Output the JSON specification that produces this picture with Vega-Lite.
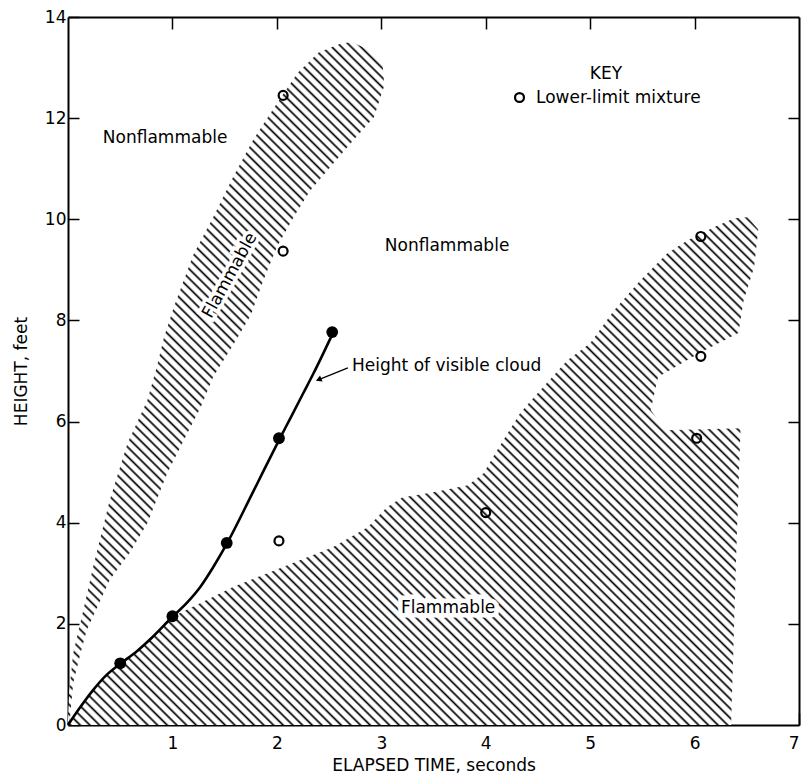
{
"$schema": "https://vega.github.io/schema/vega-lite/v6.json",
"width": 731,
"height": 708,
"autosize": {"type": "none"},
"padding": {"left": 68, "top": 17, "right": 3, "bottom": 57},
"background": "white",
"config": {
 "view": {"stroke": null},
 "font": "DejaVu Sans",
 "axis": {"grid": false, "domainColor": "black", "domainWidth": 2, "tickColor": "black", "tickWidth": 1.5, "labelFont": "DejaVu Sans", "labelFontSize": 17, "labelColor": "black", "titleFont": "DejaVu Sans", "titleFontSize": 17, "titleFontWeight": "normal", "titleColor": "black", "labelFlush": false},
 "text": {"font": "DejaVu Sans", "fontSize": 17, "color": "black"}
},
"datasets": {
 "hatch": [
  {"i":0,"x":0,"y":0},{"i":1,"x":0,"y":0.1},{"i":2,"x":0.01,"y":0.63},{"i":3,"x":0.05,"y":1.42},{"i":4,"x":0.14,"y":2.21},{"i":5,"x":0.24,"y":3.12},{"i":6,"x":0.4,"y":4.45},{"i":7,"x":0.57,"y":5.57},{"i":8,"x":0.76,"y":6.42},{"i":9,"x":0.85,"y":7.08},{"i":10,"x":0.92,"y":7.67},{"i":11,"x":1.02,"y":8.3},{"i":12,"x":1.2,"y":9.3},{"i":13,"x":1.39,"y":10.04},{"i":14,"x":1.58,"y":10.83},{"i":15,"x":1.77,"y":11.56},{"i":16,"x":2.0,"y":12.29},{"i":17,"x":2.2,"y":12.9},{"i":18,"x":2.4,"y":13.3},{"i":19,"x":2.62,"y":13.48},{"i":20,"x":2.72,"y":13.5},{"i":21,"x":2.88,"y":13.35},{"i":22,"x":3.01,"y":13.1},{"i":23,"x":3.03,"y":12.65},{"i":24,"x":2.93,"y":12.02},{"i":25,"x":2.73,"y":11.56},{"i":26,"x":2.51,"y":11.03},{"i":27,"x":2.32,"y":10.57},{"i":28,"x":2.16,"y":10.04},{"i":29,"x":2.0,"y":9.45},{"i":30,"x":1.87,"y":8.79},{"i":31,"x":1.75,"y":8.1},{"i":32,"x":1.65,"y":7.75},{"i":33,"x":1.55,"y":7.41},{"i":34,"x":1.39,"y":6.88},{"i":35,"x":1.27,"y":6.28},{"i":36,"x":1.15,"y":5.8},{"i":37,"x":0.95,"y":4.98},{"i":38,"x":0.76,"y":3.99},{"i":39,"x":0.59,"y":3.4},{"i":40,"x":0.4,"y":2.87},{"i":41,"x":0.28,"y":2.33},{"i":42,"x":0.18,"y":1.88},{"i":43,"x":0.12,"y":1.42},{"i":44,"x":0.05,"y":0.83},{"i":45,"x":0.02,"y":0.16},{"i":46,"x":0,"y":0},
  {"i":47,"x":0.12,"y":0.36},{"i":48,"x":0.24,"y":0.69},{"i":49,"x":0.37,"y":0.99},{"i":50,"x":0.5,"y":1.21},{"i":51,"x":0.66,"y":1.45},{"i":52,"x":0.81,"y":1.72},{"i":53,"x":1.0,"y":2.14},{"i":54,"x":1.27,"y":2.41},{"i":55,"x":1.58,"y":2.73},{"i":56,"x":1.91,"y":3.0},{"i":57,"x":2.22,"y":3.26},{"i":58,"x":2.54,"y":3.52},{"i":59,"x":2.87,"y":3.91},{"i":60,"x":3.05,"y":4.3},{"i":61,"x":3.2,"y":4.5},{"i":62,"x":3.5,"y":4.6},{"i":63,"x":3.83,"y":4.74},{"i":64,"x":3.98,"y":4.98},{"i":65,"x":4.07,"y":5.3},{"i":66,"x":4.21,"y":5.77},{"i":67,"x":4.33,"y":6.17},{"i":68,"x":4.45,"y":6.45},{"i":69,"x":4.78,"y":7.21},{"i":70,"x":5.0,"y":7.55},{"i":71,"x":5.23,"y":8.2},{"i":72,"x":5.48,"y":8.79},{"i":73,"x":5.74,"y":9.33},{"i":74,"x":5.93,"y":9.58},{"i":75,"x":6.18,"y":9.84},{"i":76,"x":6.38,"y":10.02},{"i":77,"x":6.51,"y":10.04},{"i":78,"x":6.61,"y":9.8},{"i":79,"x":6.57,"y":9.05},{"i":80,"x":6.47,"y":8.4},{"i":81,"x":6.42,"y":7.75},{"i":82,"x":6.06,"y":7.37},{"i":83,"x":5.65,"y":6.88},{"i":84,"x":5.58,"y":6.23},{"i":85,"x":5.72,"y":5.83},{"i":86,"x":6.44,"y":5.87},{"i":87,"x":6.4,"y":3.46},{"i":88,"x":6.35,"y":0},{"i":89,"x":0,"y":0}
 ],
 "curve": [
  {"x":0,"y":0},{"x":0.12,"y":0.36},{"x":0.24,"y":0.69},{"x":0.37,"y":0.99},{"x":0.5,"y":1.21},{"x":0.66,"y":1.46},{"x":0.81,"y":1.74},{"x":1.0,"y":2.14},{"x":1.14,"y":2.42},{"x":1.27,"y":2.74},{"x":1.39,"y":3.12},{"x":1.52,"y":3.58},{"x":1.77,"y":4.6},{"x":2.0,"y":5.55},{"x":2.13,"y":6.07},{"x":2.25,"y":6.55},{"x":2.35,"y":6.95},{"x":2.44,"y":7.33},{"x":2.53,"y":7.72}
 ],
 "cloud": [
  {"x":0.5,"y":1.22},{"x":1.0,"y":2.15},{"x":1.52,"y":3.6},{"x":2.02,"y":5.67},{"x":2.53,"y":7.77}
 ],
 "lower": [
  {"x":2.06,"y":12.45,"key":"Lower-limit mixture"},{"x":2.06,"y":9.37,"key":"Lower-limit mixture"},{"x":2.02,"y":3.64,"key":"Lower-limit mixture"},{"x":4.0,"y":4.2,"key":"Lower-limit mixture"},{"x":6.06,"y":9.66,"key":"Lower-limit mixture"},{"x":6.06,"y":7.29,"key":"Lower-limit mixture"},{"x":6.02,"y":5.67,"key":"Lower-limit mixture"}
 ],
 "one": [{"x":0,"y":0}]
},
"encoding": {
 "x": {"field": "x", "type": "quantitative", "scale": {"domain": [0, 7], "nice": false, "zero": false}, "axis": null},
 "y": {"field": "y", "type": "quantitative", "scale": {"domain": [0, 14], "nice": false, "zero": false}, "axis": null}
},
"layer": [
 {
  "data": {"name": "hatch"},
  "mark": {"type": "line", "interpolate": "linear", "strokeWidth": 0, "strokeOpacity": 0,
   "fill": {"gradient": "linear", "x1": 0, "y1": 1, "x2": 0.875, "y2": 0.125, "stops": [
{"offset":0,"color":"#fff"},{"offset":0.002,"color":"#000"},{"offset":0.004,"color":"#fff"},
{"offset":0.008,"color":"#fff"},{"offset":0.01,"color":"#000"},{"offset":0.012,"color":"#fff"},
{"offset":0.016,"color":"#fff"},{"offset":0.018,"color":"#000"},{"offset":0.02,"color":"#fff"},
{"offset":0.024,"color":"#fff"},{"offset":0.026,"color":"#000"},{"offset":0.028,"color":"#fff"},
{"offset":0.032,"color":"#fff"},{"offset":0.034,"color":"#000"},{"offset":0.036,"color":"#fff"},
{"offset":0.04,"color":"#fff"},{"offset":0.042,"color":"#000"},{"offset":0.044,"color":"#fff"},
{"offset":0.048,"color":"#fff"},{"offset":0.05,"color":"#000"},{"offset":0.052,"color":"#fff"},
{"offset":0.056,"color":"#fff"},{"offset":0.058,"color":"#000"},{"offset":0.06,"color":"#fff"},
{"offset":0.064,"color":"#fff"},{"offset":0.066,"color":"#000"},{"offset":0.068,"color":"#fff"},
{"offset":0.072,"color":"#fff"},{"offset":0.074,"color":"#000"},{"offset":0.076,"color":"#fff"},
{"offset":0.08,"color":"#fff"},{"offset":0.082,"color":"#000"},{"offset":0.084,"color":"#fff"},
{"offset":0.088,"color":"#fff"},{"offset":0.09,"color":"#000"},{"offset":0.092,"color":"#fff"},
{"offset":0.096,"color":"#fff"},{"offset":0.098,"color":"#000"},{"offset":0.1,"color":"#fff"},
{"offset":0.104,"color":"#fff"},{"offset":0.106,"color":"#000"},{"offset":0.108,"color":"#fff"},
{"offset":0.112,"color":"#fff"},{"offset":0.114,"color":"#000"},{"offset":0.116,"color":"#fff"},
{"offset":0.12,"color":"#fff"},{"offset":0.122,"color":"#000"},{"offset":0.124,"color":"#fff"},
{"offset":0.128,"color":"#fff"},{"offset":0.13,"color":"#000"},{"offset":0.132,"color":"#fff"},
{"offset":0.136,"color":"#fff"},{"offset":0.138,"color":"#000"},{"offset":0.14,"color":"#fff"},
{"offset":0.144,"color":"#fff"},{"offset":0.146,"color":"#000"},{"offset":0.148,"color":"#fff"},
{"offset":0.152,"color":"#fff"},{"offset":0.154,"color":"#000"},{"offset":0.156,"color":"#fff"},
{"offset":0.16,"color":"#fff"},{"offset":0.162,"color":"#000"},{"offset":0.164,"color":"#fff"},
{"offset":0.168,"color":"#fff"},{"offset":0.17,"color":"#000"},{"offset":0.172,"color":"#fff"},
{"offset":0.176,"color":"#fff"},{"offset":0.178,"color":"#000"},{"offset":0.18,"color":"#fff"},
{"offset":0.184,"color":"#fff"},{"offset":0.186,"color":"#000"},{"offset":0.188,"color":"#fff"},
{"offset":0.192,"color":"#fff"},{"offset":0.194,"color":"#000"},{"offset":0.196,"color":"#fff"},
{"offset":0.2,"color":"#fff"},{"offset":0.202,"color":"#000"},{"offset":0.204,"color":"#fff"},
{"offset":0.208,"color":"#fff"},{"offset":0.21,"color":"#000"},{"offset":0.212,"color":"#fff"},
{"offset":0.216,"color":"#fff"},{"offset":0.218,"color":"#000"},{"offset":0.22,"color":"#fff"},
{"offset":0.224,"color":"#fff"},{"offset":0.226,"color":"#000"},{"offset":0.228,"color":"#fff"},
{"offset":0.232,"color":"#fff"},{"offset":0.234,"color":"#000"},{"offset":0.236,"color":"#fff"},
{"offset":0.24,"color":"#fff"},{"offset":0.242,"color":"#000"},{"offset":0.244,"color":"#fff"},
{"offset":0.248,"color":"#fff"},{"offset":0.25,"color":"#000"},{"offset":0.252,"color":"#fff"},
{"offset":0.256,"color":"#fff"},{"offset":0.258,"color":"#000"},{"offset":0.26,"color":"#fff"},
{"offset":0.264,"color":"#fff"},{"offset":0.266,"color":"#000"},{"offset":0.268,"color":"#fff"},
{"offset":0.272,"color":"#fff"},{"offset":0.274,"color":"#000"},{"offset":0.276,"color":"#fff"},
{"offset":0.28,"color":"#fff"},{"offset":0.282,"color":"#000"},{"offset":0.284,"color":"#fff"},
{"offset":0.288,"color":"#fff"},{"offset":0.29,"color":"#000"},{"offset":0.292,"color":"#fff"},
{"offset":0.296,"color":"#fff"},{"offset":0.298,"color":"#000"},{"offset":0.3,"color":"#fff"},
{"offset":0.304,"color":"#fff"},{"offset":0.306,"color":"#000"},{"offset":0.308,"color":"#fff"},
{"offset":0.312,"color":"#fff"},{"offset":0.314,"color":"#000"},{"offset":0.316,"color":"#fff"},
{"offset":0.32,"color":"#fff"},{"offset":0.322,"color":"#000"},{"offset":0.324,"color":"#fff"},
{"offset":0.328,"color":"#fff"},{"offset":0.33,"color":"#000"},{"offset":0.332,"color":"#fff"},
{"offset":0.336,"color":"#fff"},{"offset":0.338,"color":"#000"},{"offset":0.34,"color":"#fff"},
{"offset":0.344,"color":"#fff"},{"offset":0.346,"color":"#000"},{"offset":0.348,"color":"#fff"},
{"offset":0.352,"color":"#fff"},{"offset":0.354,"color":"#000"},{"offset":0.356,"color":"#fff"},
{"offset":0.36,"color":"#fff"},{"offset":0.362,"color":"#000"},{"offset":0.364,"color":"#fff"},
{"offset":0.368,"color":"#fff"},{"offset":0.37,"color":"#000"},{"offset":0.372,"color":"#fff"},
{"offset":0.376,"color":"#fff"},{"offset":0.378,"color":"#000"},{"offset":0.38,"color":"#fff"},
{"offset":0.384,"color":"#fff"},{"offset":0.386,"color":"#000"},{"offset":0.388,"color":"#fff"},
{"offset":0.392,"color":"#fff"},{"offset":0.394,"color":"#000"},{"offset":0.396,"color":"#fff"},
{"offset":0.4,"color":"#fff"},{"offset":0.402,"color":"#000"},{"offset":0.404,"color":"#fff"},
{"offset":0.408,"color":"#fff"},{"offset":0.41,"color":"#000"},{"offset":0.412,"color":"#fff"},
{"offset":0.416,"color":"#fff"},{"offset":0.418,"color":"#000"},{"offset":0.42,"color":"#fff"},
{"offset":0.424,"color":"#fff"},{"offset":0.426,"color":"#000"},{"offset":0.428,"color":"#fff"},
{"offset":0.432,"color":"#fff"},{"offset":0.434,"color":"#000"},{"offset":0.436,"color":"#fff"},
{"offset":0.44,"color":"#fff"},{"offset":0.442,"color":"#000"},{"offset":0.444,"color":"#fff"},
{"offset":0.448,"color":"#fff"},{"offset":0.45,"color":"#000"},{"offset":0.452,"color":"#fff"},
{"offset":0.456,"color":"#fff"},{"offset":0.458,"color":"#000"},{"offset":0.46,"color":"#fff"},
{"offset":0.464,"color":"#fff"},{"offset":0.466,"color":"#000"},{"offset":0.468,"color":"#fff"},
{"offset":0.472,"color":"#fff"},{"offset":0.474,"color":"#000"},{"offset":0.476,"color":"#fff"},
{"offset":0.48,"color":"#fff"},{"offset":0.482,"color":"#000"},{"offset":0.484,"color":"#fff"},
{"offset":0.488,"color":"#fff"},{"offset":0.49,"color":"#000"},{"offset":0.492,"color":"#fff"},
{"offset":0.496,"color":"#fff"},{"offset":0.498,"color":"#000"},{"offset":0.5,"color":"#fff"},
{"offset":0.504,"color":"#fff"},{"offset":0.506,"color":"#000"},{"offset":0.508,"color":"#fff"},
{"offset":0.512,"color":"#fff"},{"offset":0.514,"color":"#000"},{"offset":0.516,"color":"#fff"},
{"offset":0.52,"color":"#fff"},{"offset":0.522,"color":"#000"},{"offset":0.524,"color":"#fff"},
{"offset":0.528,"color":"#fff"},{"offset":0.53,"color":"#000"},{"offset":0.532,"color":"#fff"},
{"offset":0.536,"color":"#fff"},{"offset":0.538,"color":"#000"},{"offset":0.54,"color":"#fff"},
{"offset":0.544,"color":"#fff"},{"offset":0.546,"color":"#000"},{"offset":0.548,"color":"#fff"},
{"offset":0.552,"color":"#fff"},{"offset":0.554,"color":"#000"},{"offset":0.556,"color":"#fff"},
{"offset":0.56,"color":"#fff"},{"offset":0.562,"color":"#000"},{"offset":0.564,"color":"#fff"},
{"offset":0.568,"color":"#fff"},{"offset":0.57,"color":"#000"},{"offset":0.572,"color":"#fff"},
{"offset":0.576,"color":"#fff"},{"offset":0.578,"color":"#000"},{"offset":0.58,"color":"#fff"},
{"offset":0.584,"color":"#fff"},{"offset":0.586,"color":"#000"},{"offset":0.588,"color":"#fff"},
{"offset":0.592,"color":"#fff"},{"offset":0.594,"color":"#000"},{"offset":0.596,"color":"#fff"},
{"offset":0.6,"color":"#fff"},{"offset":0.602,"color":"#000"},{"offset":0.604,"color":"#fff"},
{"offset":0.608,"color":"#fff"},{"offset":0.61,"color":"#000"},{"offset":0.612,"color":"#fff"},
{"offset":0.616,"color":"#fff"},{"offset":0.618,"color":"#000"},{"offset":0.62,"color":"#fff"},
{"offset":0.624,"color":"#fff"},{"offset":0.626,"color":"#000"},{"offset":0.628,"color":"#fff"},
{"offset":0.632,"color":"#fff"},{"offset":0.634,"color":"#000"},{"offset":0.636,"color":"#fff"},
{"offset":0.64,"color":"#fff"},{"offset":0.642,"color":"#000"},{"offset":0.644,"color":"#fff"},
{"offset":0.648,"color":"#fff"},{"offset":0.65,"color":"#000"},{"offset":0.652,"color":"#fff"},
{"offset":0.656,"color":"#fff"},{"offset":0.658,"color":"#000"},{"offset":0.66,"color":"#fff"},
{"offset":0.664,"color":"#fff"},{"offset":0.666,"color":"#000"},{"offset":0.668,"color":"#fff"},
{"offset":0.672,"color":"#fff"},{"offset":0.674,"color":"#000"},{"offset":0.676,"color":"#fff"},
{"offset":0.68,"color":"#fff"},{"offset":0.682,"color":"#000"},{"offset":0.684,"color":"#fff"},
{"offset":0.688,"color":"#fff"},{"offset":0.69,"color":"#000"},{"offset":0.692,"color":"#fff"},
{"offset":0.696,"color":"#fff"},{"offset":0.698,"color":"#000"},{"offset":0.7,"color":"#fff"},
{"offset":0.704,"color":"#fff"},{"offset":0.706,"color":"#000"},{"offset":0.708,"color":"#fff"},
{"offset":0.712,"color":"#fff"},{"offset":0.714,"color":"#000"},{"offset":0.716,"color":"#fff"},
{"offset":0.72,"color":"#fff"},{"offset":0.722,"color":"#000"},{"offset":0.724,"color":"#fff"},
{"offset":0.728,"color":"#fff"},{"offset":0.73,"color":"#000"},{"offset":0.732,"color":"#fff"},
{"offset":0.736,"color":"#fff"},{"offset":0.738,"color":"#000"},{"offset":0.74,"color":"#fff"},
{"offset":0.744,"color":"#fff"},{"offset":0.746,"color":"#000"},{"offset":0.748,"color":"#fff"},
{"offset":0.752,"color":"#fff"},{"offset":0.754,"color":"#000"},{"offset":0.756,"color":"#fff"},
{"offset":0.76,"color":"#fff"},{"offset":0.762,"color":"#000"},{"offset":0.764,"color":"#fff"},
{"offset":0.768,"color":"#fff"},{"offset":0.77,"color":"#000"},{"offset":0.772,"color":"#fff"},
{"offset":0.776,"color":"#fff"},{"offset":0.778,"color":"#000"},{"offset":0.78,"color":"#fff"},
{"offset":0.784,"color":"#fff"},{"offset":0.786,"color":"#000"},{"offset":0.788,"color":"#fff"},
{"offset":0.792,"color":"#fff"},{"offset":0.794,"color":"#000"},{"offset":0.796,"color":"#fff"},
{"offset":0.8,"color":"#fff"},{"offset":0.802,"color":"#000"},{"offset":0.804,"color":"#fff"},
{"offset":0.808,"color":"#fff"},{"offset":0.81,"color":"#000"},{"offset":0.812,"color":"#fff"},
{"offset":0.816,"color":"#fff"},{"offset":0.818,"color":"#000"},{"offset":0.82,"color":"#fff"},
{"offset":0.824,"color":"#fff"},{"offset":0.826,"color":"#000"},{"offset":0.828,"color":"#fff"},
{"offset":0.832,"color":"#fff"},{"offset":0.834,"color":"#000"},{"offset":0.836,"color":"#fff"},
{"offset":0.84,"color":"#fff"},{"offset":0.842,"color":"#000"},{"offset":0.844,"color":"#fff"},
{"offset":0.848,"color":"#fff"},{"offset":0.85,"color":"#000"},{"offset":0.852,"color":"#fff"},
{"offset":0.856,"color":"#fff"},{"offset":0.858,"color":"#000"},{"offset":0.86,"color":"#fff"},
{"offset":0.864,"color":"#fff"},{"offset":0.866,"color":"#000"},{"offset":0.868,"color":"#fff"},
{"offset":0.872,"color":"#fff"},{"offset":0.874,"color":"#000"},{"offset":0.876,"color":"#fff"},
{"offset":0.88,"color":"#fff"},{"offset":0.882,"color":"#000"},{"offset":0.884,"color":"#fff"},
{"offset":0.888,"color":"#fff"},{"offset":0.89,"color":"#000"},{"offset":0.892,"color":"#fff"},
{"offset":0.896,"color":"#fff"},{"offset":0.898,"color":"#000"},{"offset":0.9,"color":"#fff"},
{"offset":0.904,"color":"#fff"},{"offset":0.906,"color":"#000"},{"offset":0.908,"color":"#fff"},
{"offset":0.912,"color":"#fff"},{"offset":0.914,"color":"#000"},{"offset":0.916,"color":"#fff"},
{"offset":0.92,"color":"#fff"},{"offset":0.922,"color":"#000"},{"offset":0.924,"color":"#fff"},
{"offset":0.928,"color":"#fff"},{"offset":0.93,"color":"#000"},{"offset":0.932,"color":"#fff"},
{"offset":0.936,"color":"#fff"},{"offset":0.938,"color":"#000"},{"offset":0.94,"color":"#fff"},
{"offset":0.944,"color":"#fff"},{"offset":0.946,"color":"#000"},{"offset":0.948,"color":"#fff"},
{"offset":0.952,"color":"#fff"},{"offset":0.954,"color":"#000"},{"offset":0.956,"color":"#fff"},
{"offset":0.96,"color":"#fff"},{"offset":0.962,"color":"#000"},{"offset":0.964,"color":"#fff"},
{"offset":0.968,"color":"#fff"},{"offset":0.97,"color":"#000"},{"offset":0.972,"color":"#fff"},
{"offset":0.976,"color":"#fff"},{"offset":0.978,"color":"#000"},{"offset":0.98,"color":"#fff"},
{"offset":0.984,"color":"#fff"},{"offset":0.986,"color":"#000"},{"offset":0.988,"color":"#fff"},
{"offset":0.992,"color":"#fff"},{"offset":0.994,"color":"#000"},{"offset":0.996,"color":"#fff"}
   ]}},
  "encoding": {
   "x": {"field": "x", "type": "quantitative", "scale": {"domain": [0, 7], "nice": false, "zero": false},
    "axis": {"orient": "bottom", "values": [1,2,3,4,5,6,7], "title": "ELAPSED TIME, seconds", "tickSize": -12, "labelPadding": 22, "labelFlush": true, "titleY": 45, "titleBaseline": "alphabetic"}},
   "y": {"field": "y", "type": "quantitative", "scale": {"domain": [0, 14], "nice": false, "zero": false},
    "axis": {"orient": "left", "values": [0,2,4,6,8,10,12,14], "title": "HEIGHT, feet", "tickSize": -11, "labelPadding": 13, "labelFlush": false, "titleX": -42, "titleBaseline": "alphabetic"}},
   "order": {"field": "i", "type": "quantitative"}
  }
 },
 {
  "data": {"name": "one"},
  "mark": {"type": "point", "opacity": 0},
  "encoding": {
   "x": {"field": "x", "type": "quantitative", "axis": {"orient": "top", "values": [1,2,3,4,5,6], "labels": false, "title": null, "tickSize": -12}},
   "y": {"field": "y", "type": "quantitative", "axis": {"orient": "right", "values": [2,4,6,8,10,12], "labels": false, "title": null, "tickSize": -11}}
  }
 },
 {
  "data": {"name": "curve"},
  "mark": {"type": "line", "interpolate": "monotone", "color": "black", "strokeWidth": 2.6}
 },
 {
  "data": {"name": "cloud"},
  "mark": {"type": "point", "shape": "circle", "filled": true, "color": "black", "size": 140, "opacity": 1}
 },
 {
  "data": {"name": "lower"},
  "mark": {"type": "point", "shape": "circle", "filled": false, "strokeWidth": 2.2, "size": 80, "opacity": 1},
  "encoding": {
   "stroke": {"field": "key", "type": "nominal", "scale": {"range": ["black"]},
    "legend": {"title": "KEY", "orient": "none", "legendX": 443, "legendY": 49, "padding": 0, "titleAnchor": "middle", "titleFont": "DejaVu Sans", "titleFontSize": 17, "titleFontWeight": "normal", "titleColor": "black", "titlePadding": 6, "labelFont": "DejaVu Sans", "labelFontSize": 17, "labelColor": "black", "labelLimit": 400, "labelOffset": 8, "symbolType": "circle", "symbolStrokeWidth": 2.2, "symbolSize": 80, "symbolOpacity": 1}}
  }
 },
 {
  "data": {"values": [{"x": 0.93, "y": 11.6}]},
  "mark": {"type": "text", "text": "Nonflammable", "align": "center", "baseline": "middle"}
 },
 {
  "data": {"values": [{"x": 3.63, "y": 9.47}]},
  "mark": {"type": "text", "text": "Nonflammable", "align": "center", "baseline": "middle"}
 },
 {
  "data": {"values": [{"x": 1.55, "y": 8.89}]},
  "mark": {"type": "text", "text": "Flammable", "align": "center", "baseline": "middle", "angle": -61, "stroke": "white", "strokeWidth": 7, "fill": "white"}
 },
 {
  "data": {"values": [{"x": 1.55, "y": 8.89}]},
  "mark": {"type": "text", "text": "Flammable", "align": "center", "baseline": "middle", "angle": -61}
 },
 {
  "data": {"values": [{"x": 3.64, "y": 2.31}]},
  "mark": {"type": "text", "text": "Flammable", "align": "center", "baseline": "middle", "stroke": "white", "strokeWidth": 9, "fill": "white"}
 },
 {
  "data": {"values": [{"x": 3.64, "y": 2.31}]},
  "mark": {"type": "text", "text": "Flammable", "align": "center", "baseline": "middle"}
 },
 {
  "data": {"values": [{"x": 2.72, "y": 7.09}]},
  "mark": {"type": "text", "text": "Height of visible cloud", "align": "left", "baseline": "middle"}
 },
 {
  "data": {"values": [{"x": 2.68, "y": 7.06, "x2": 2.39, "y2": 6.82}]},
  "mark": {"type": "rule", "color": "black", "strokeWidth": 1.3},
  "encoding": {"x2": {"field": "x2"}, "y2": {"field": "y2"}}
 },
 {
  "data": {"values": [{"x": 2.40, "y": 6.83}]},
  "mark": {"type": "point", "shape": "triangle-right", "angle": 158, "filled": true, "color": "black", "size": 45, "opacity": 1}
 }
],
"resolve": {"axis": {"x": "independent", "y": "independent"}}
}
